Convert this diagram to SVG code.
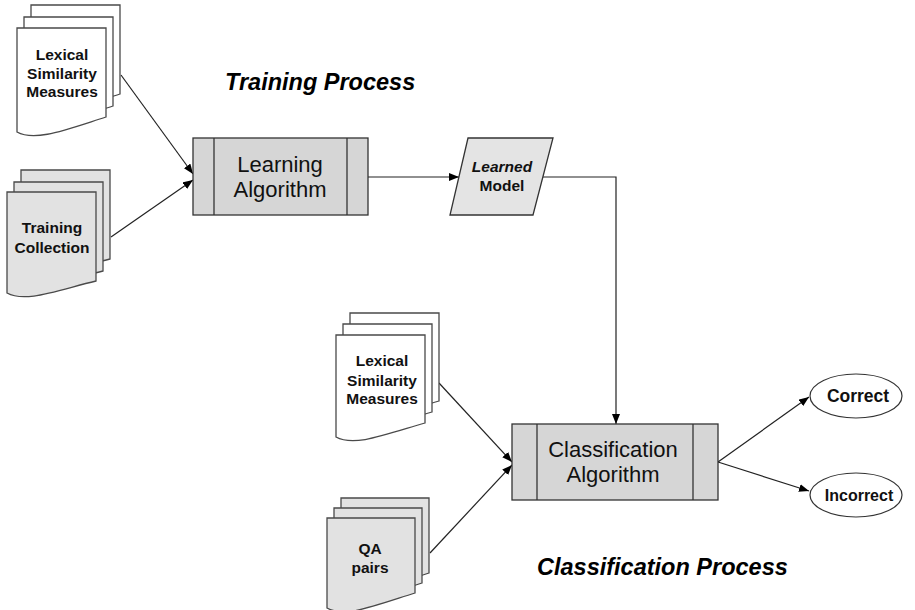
<svg xmlns="http://www.w3.org/2000/svg" width="915" height="610" viewBox="0 0 915 610">
<defs>
<marker id="arr" viewBox="0 0 10 8" refX="10" refY="4" markerWidth="10" markerHeight="8" markerUnits="userSpaceOnUse" orient="auto">
<path d="M0,0 L10,4 L0,8 Z" fill="#000"/>
</marker>
<style>
.doc{stroke:#4a4a4a;stroke-width:1.3;}
.w{fill:#ffffff;}
.g{fill:#e2e2e2;}
.box{fill:#d6d6d6;stroke:#333;stroke-width:1.3;}
.para{fill:#e4e4e4;stroke:#333;stroke-width:1.3;}
.ell{fill:#fff;stroke:#333;stroke-width:1.2;}
.con{fill:none;stroke:#222;stroke-width:1.2;marker-end:url(#arr);}
.t{font-family:"Liberation Sans",Arial,sans-serif;font-weight:bold;font-size:15.5px;text-anchor:middle;fill:#111;}
.te{font-family:"Liberation Sans",Arial,sans-serif;font-weight:bold;font-size:17.5px;text-anchor:middle;fill:#111;}
.ti{font-family:"Liberation Sans",Arial,sans-serif;font-weight:bold;font-size:16px;text-anchor:middle;fill:#111;}
.tb{font-family:"Liberation Sans",Arial,sans-serif;font-size:22px;text-anchor:middle;fill:#111;}
.title{font-family:"Liberation Sans",Arial,sans-serif;font-weight:bold;font-style:italic;font-size:23.5px;fill:#000;}
</style>
</defs>
<rect width="915" height="610" fill="#fff"/>

<g id="connectors">
<line class="con" x1="121" y1="75" x2="193" y2="174"/>
<line class="con" x1="111" y1="237" x2="193" y2="180"/>
<line class="con" x1="368" y1="177" x2="459" y2="177"/>
<polyline class="con" points="543,177 616,177 616,424"/>
<line class="con" x1="439" y1="383" x2="512" y2="462"/>
<line class="con" x1="430" y1="553" x2="512" y2="465"/>
<line class="con" x1="718" y1="462" x2="809" y2="397"/>
<line class="con" x1="718" y1="462" x2="809" y2="491"/>
</g>

<g id="lexical1">
<path class="doc w" d="M31,5 H120 V94 C79,107 49,119 31,109 Z"/>
<path class="doc w" d="M24,17 H113 V106 C72,119 42,131 24,121 Z"/>
<path class="doc w" d="M17,28 H106 V117 C65,130 35,142 17,132 Z"/>
<text class="t" x="62" y="60">Lexical</text>
<text class="t" x="62" y="79">Similarity</text>
<text class="t" x="62" y="97">Measures</text>
</g>

<g id="training">
<path class="doc g" d="M21,170 H110 V259 C69,269 39,281 21,271 Z"/>
<path class="doc g" d="M14,182 H103 V271 C62,281 32,293 14,283 Z"/>
<path class="doc g" d="M7,192 H96 V281 C55,291 25,303 7,293 Z"/>
<text class="t" x="52" y="233">Training</text>
<text class="t" x="52" y="253">Collection</text>
</g>

<g id="learning">
<rect class="box" x="193" y="138" width="175" height="77"/>
<line x1="214" y1="138" x2="214" y2="215" stroke="#333" stroke-width="1.3"/>
<line x1="347" y1="138" x2="347" y2="215" stroke="#333" stroke-width="1.3"/>
<text class="tb" x="280" y="172">Learning</text>
<text class="tb" x="280" y="197">Algorithm</text>
</g>

<g id="model">
<polygon class="para" points="468,138 553,138 533,215 450,215"/>
<text class="t" x="502" y="172" font-style="italic">Learned</text>
<text class="t" x="502" y="191">Model</text>
</g>

<g id="lexical2">
<path class="doc w" d="M350,313 H439 V401 C398,413 368,425 350,415 Z"/>
<path class="doc w" d="M343,324 H432 V412 C391,424 361,436 343,426 Z"/>
<path class="doc w" d="M336,335 H425 V423 C384,435 354,447 336,437 Z"/>
<text class="t" x="382" y="366">Lexical</text>
<text class="t" x="382" y="386">Similarity</text>
<text class="t" x="382" y="404">Measures</text>
</g>

<g id="qa">
<path class="doc g" d="M341,498 H429 V573 C388,586 359,598 341,588 Z"/>
<path class="doc g" d="M334,508 H422 V583 C381,596 352,608 334,598 Z"/>
<path class="doc g" d="M327,518 H415 V593 C374,606 345,618 327,608 Z"/>
<text class="t" x="370" y="554">QA</text>
<text class="t" x="370" y="573">pairs</text>
</g>

<g id="classification">
<rect class="box" x="512" y="424" width="206" height="76"/>
<line x1="537" y1="424" x2="537" y2="500" stroke="#333" stroke-width="1.3"/>
<line x1="693" y1="424" x2="693" y2="500" stroke="#333" stroke-width="1.3"/>
<text class="tb" x="613" y="457">Classification</text>
<text class="tb" x="613" y="482">Algorithm</text>
</g>

<g id="correct">
<ellipse class="ell" cx="856" cy="396" rx="46" ry="22"/>
<text class="te" x="858" y="402">Correct</text>
</g>

<g id="incorrect">
<ellipse class="ell" cx="856" cy="495" rx="46" ry="22"/>
<text class="ti" x="859" y="501">Incorrect</text>
</g>

<g id="titles">
<text class="title" x="225" y="90">Training Process</text>
<text class="title" x="537" y="575">Classification Process</text>
</g>
</svg>
